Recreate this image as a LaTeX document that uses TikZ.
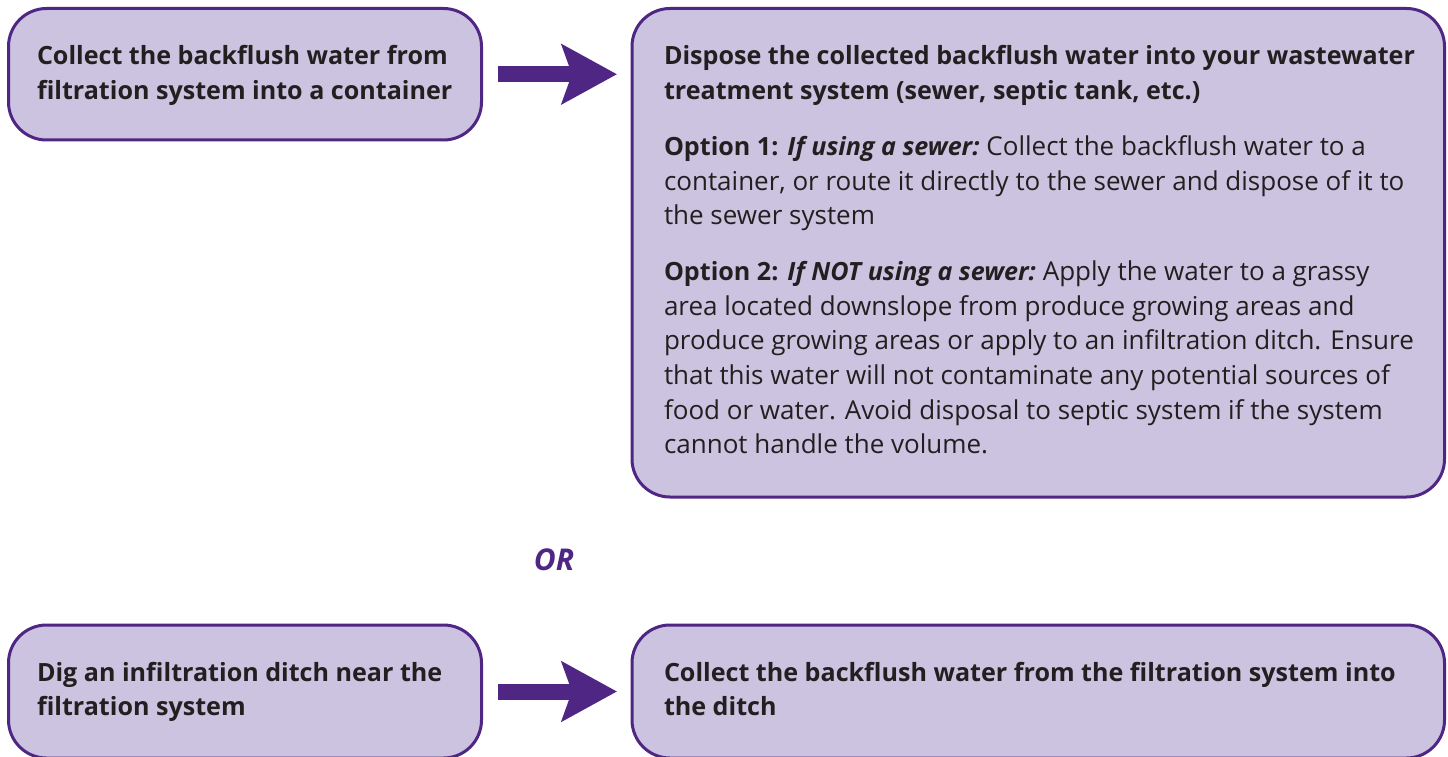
\documentclass[tikz,border=0pt]{standalone}
\usepackage{fontspec}
\setmainfont{Open Sans}
\usetikzlibrary{arrows.meta,calc}
\definecolor{boxfill}{HTML}{CBC3DF}
\definecolor{purp}{HTML}{4F2683}
\definecolor{ink}{HTML}{231F20}
\newcommand\bsz{\fontsize{25.1}{34.6}\selectfont\bfseries}
\newcommand\bt[1]{{\bsz #1}}
\newcommand\tline[1]{\hbox{#1}}
\newcommand\lines[1]{\vtop{\baselineskip=34.6pt\lineskiplimit=-100pt #1}}
\tikzset{
  box/.style={draw=purp, fill=boxfill, line width=3pt, rounded corners=38pt,
    rectangle, inner sep=0pt, outer sep=0pt, anchor=north west},
  txt/.style={inner sep=0pt, outer sep=0pt, anchor=base west, text=ink,
    font=\fontsize{26}{34.6}\selectfont},
  fat/.style={draw=purp, line width=16pt, -{Stealth[length=55pt,width=59pt,inset=10pt]}},
  orlabel/.style={inner sep=0pt, anchor=base, text=purp,
    font=\fontsize{30}{34}\selectfont\bfseries\itshape}
}
\begin{document}
\begin{tikzpicture}[x=1pt,y=-1pt]
\clip (0,0) rectangle (1448,757);
\fill[white] (0,0) rectangle (1448,757);
% boxes
\node[box, minimum width=473pt, minimum height=131.5pt] (b1) at (8.5,8.5) {};
\node[box, minimum width=812.5pt, minimum height=488.5pt] (b2) at (632,8.5) {};
\node[box, minimum width=473pt, minimum height=133pt] (b3) at (8.5,625) {};
\node[box, minimum width=812.5pt, minimum height=133pt] (b4) at (632,625) {};
% arrows
\draw[fat] ([xshift=16.5pt]b1.east) -- ($(b1.east -| b2.west)+(-15,0)$);
\draw[fat] ([xshift=16.5pt]b3.east) -- ($(b3.east -| b4.west)+(-15,0)$);
% texts
\node[txt] (t1) at (37,65) {\lines{\bsz
  \tline{Collect the backflush water from}
  \tline{filtration system into a container}}};
\node[txt] (t2) at (664,65) {\lines{%
  \tline{\bsz Dispose the collected backflush water into your wastewater}
  \tline{\bsz treatment system (sewer, septic tank, etc.)}
  \vskip 21.4pt
  \tline{\bt{Option 1:} \bt{\itshape If using a sewer:}\hspace{-2pt} Collect the backflush water to a}
  \tline{container, or route it directly to the sewer and dispose of it to}
  \tline{the sewer system}
  \vskip 21.4pt
  \tline{\bt{Option 2:} \bt{\itshape If NOT using a sewer:}\hspace{-2pt} Apply the water to a grassy}
  \tline{area located downslope from produce growing areas and}
  \tline{produce growing areas or apply to an infiltration ditch. Ensure}
  \tline{that this water will not contaminate any potential sources of}
  \tline{food or water. Avoid disposal to septic system if the system}
  \tline{cannot handle the volume.}}};
\node[txt] (t3) at (37,681) {\lines{\bsz
  \tline{Dig an infiltration ditch near the}
  \tline{filtration system}}};
\node[txt] (t4) at (664,681) {\lines{\bsz
  \tline{Collect the backflush water from the filtration system into}
  \tline{the ditch}}};
\node[orlabel] (or) at (554,570) {OR};
\end{tikzpicture}
\end{document}
